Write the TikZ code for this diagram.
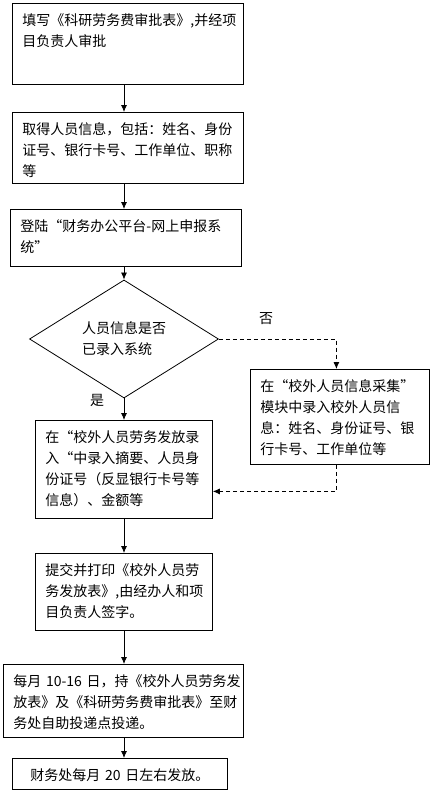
\documentclass[tikz,border=0pt]{standalone}
\usepackage{fontspec}
\setmainfont{Noto Sans CJK SC}
\usetikzlibrary{arrows.meta, shapes.geometric}

\begin{document}
\begin{tikzpicture}[x=1pt, y=-1pt, line width=0.8pt,
		>={Latex[length=7pt,width=6pt]},
		font=\fontsize{14pt}{21pt}\selectfont,
		procbox/.style={draw, rectangle, anchor=north west, inner xsep=10pt, inner ysep=8pt, text height=14pt, align=left},
		dashline/.style={dash pattern=on 4pt off 3pt}]
		
		\useasboundingbox (0,0) rectangle (433,793);
		\coordinate (spine) at (124,0);
		
		\node[procbox, text width=211pt, text depth=51pt] (fill) at (12,3) {填写《科研劳务费审批表》,并经项\\目负责人审批};
		\node[procbox, text width=211pt, text depth=41pt] (info) at (12,112) {取得人员信息，包括：姓名、身份\\证号、银行卡号、工作单位、职称\\等};
		\node[procbox, text width=211pt, text depth=27pt] (login) at (10,209) {登陆“财务办公平台-网上申报系\\统”};
		\node[draw, diamond, minimum width=189pt, minimum height=92pt, inner sep=0pt, align=left] (check) at (124,339) {人员信息是否\\已录入系统};
		\node[procbox, text width=159pt, text depth=65pt] (collect) at (250,369) {在“校外人员信息采集”\\模块中录入校外人员信\\息：姓名、身份证号、银\\行卡号、工作单位等};
		\node[procbox, text width=157pt, text depth=68pt] (entry) at (35,420) {在“校外人员劳务发放录\\入“中录入摘要、人员身\\份证号（反显银行卡号等\\信息）、金额等};
		\node[procbox, text width=157pt, text depth=47pt] (print) at (35,553) {提交并打印《校外人员劳\\务发放表》,由经办人和项\\目负责人签字。};
		\node[procbox, text width=220pt, text depth=43pt] (submit) at (3,664) {\mbox{每月 10-16 日，持《校外人员劳务发}\\放表》及《科研劳务费审批表》至财\\务处自助投递点投递。};
		\node[procbox, text width=195pt, text depth=1pt, align=center] (pay) at (12,758) {财务处每月~20~日左右发放。};
		
		\node (no) at (266,319) {否};
		\node (yes) at (97,400) {是};
		
		\draw[->] (fill.south -| spine) -- (info.north -| spine);
		\draw[->] (info.south -| spine) -- (login.north -| spine);
		\draw[->] (login.south -| spine) -- (check.north);
		\draw[->] (check.south) -- (entry.north -| spine);
		\draw[->] (entry.south -| spine) -- (print.north -| spine);
		\draw[->] (print.south -| spine) -- (submit.north -| spine);
		\draw[->] (submit.south -| spine) -- (pay.north -| spine);
		
		\draw[->, dashline] (check.east) -| ([xshift=-3.5pt]collect.north);
		\draw[->, dashline] ([xshift=-3.5pt]collect.south) |- ([yshift=-22pt]entry.east);
		
\end{tikzpicture}
\end{document}
